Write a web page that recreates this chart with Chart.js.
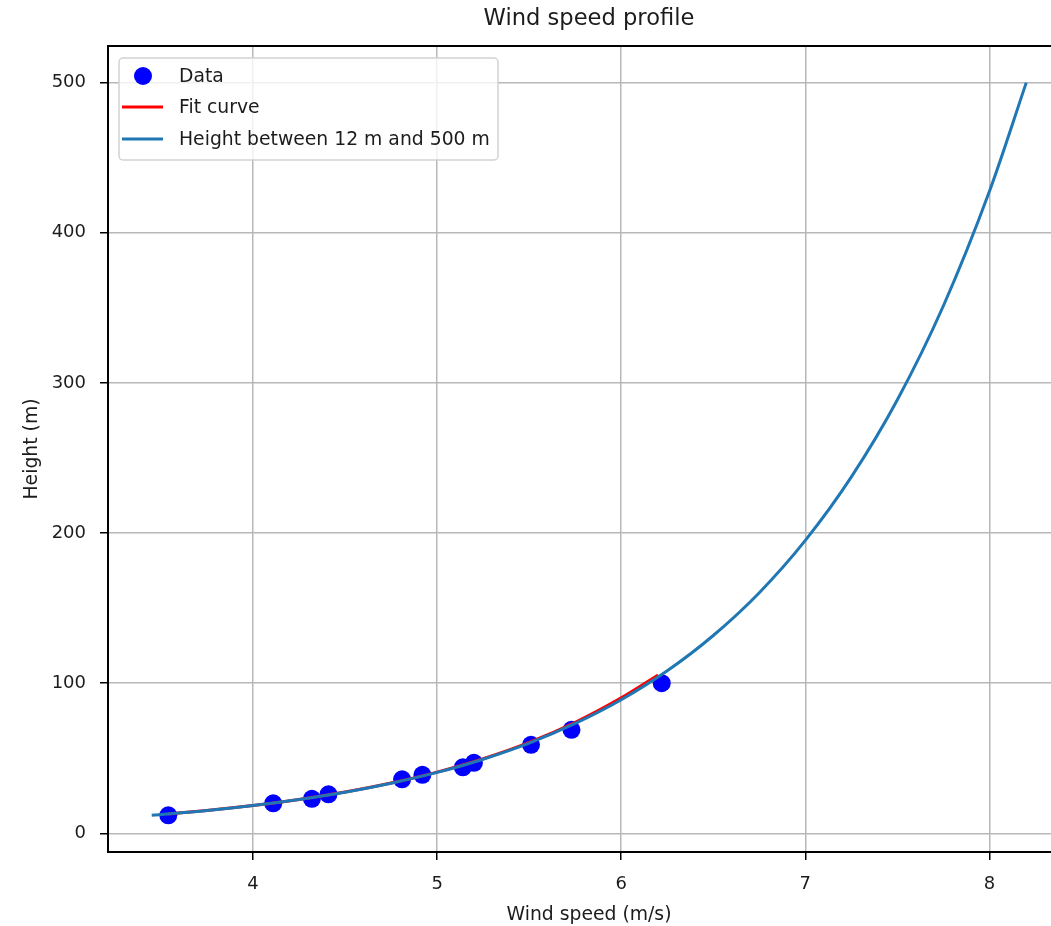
<!DOCTYPE html>
<html>
<head>
<meta charset="utf-8">
<script src="https://cdn.jsdelivr.net/npm/chart.js@4/dist/chart.umd.min.js"></script>
<style>
  html, body { margin: 0; padding: 0; overflow: hidden; background: #ffffff; }
  #wrap { width: 1176px; height: 926px; }
</style>
</head>
<body>
<div id="wrap"><canvas id="chart" width="1176" height="926"></canvas></div>
<script>
// Measured wind speed (m/s) at each height (m)
const dataSpeed  = [3.54, 4.11, 4.32, 4.41, 4.81, 4.92, 5.14, 5.20, 5.51, 5.73, 6.22];
const dataHeight = [12, 20, 23, 26, 36, 39, 44, 47, 59, 69, 100];

// Fitted profile over the measured range
const fitSpeed  = [3.54, 3.75, 4.00, 4.25, 4.50, 4.75, 5.00, 5.25, 5.50, 5.75, 6.00, 6.20];
const fitHeight = [12.9, 15.3, 18.6, 22.6, 27.5, 33.5, 40.8, 49.7, 60.6, 74.0, 90.3, 105.5];

// Extrapolated profile between 12 m and 500 m
const profSpeed  = [3.45, 3.75, 4.00, 4.25, 4.50, 4.75, 5.00, 5.25, 5.50, 5.75,
                    6.00, 6.25, 6.50, 6.75, 7.00, 7.25, 7.50, 7.75, 8.00, 8.20];
const profHeight = [12.0, 15.2, 18.5, 22.6, 27.4, 33.4, 40.6, 49.4, 60.1, 73.2,
                    89.0, 108.3, 131.8, 160.3, 195.1, 237.4, 288.8, 351.4, 427.6, 500.0];

// Axis ticks
const xTicks = [4, 5, 6, 7, 8];
const yTicks = [0, 100, 200, 300, 400, 500];

const labels = {
  title: 'Wind speed profile',
  x: 'Wind speed (m/s)',
  y: 'Height (m)',
  data: 'Data',
  fit: 'Fit curve',
  profile: 'Height between 12 m and 500 m'
};

const FONT = "'DejaVu Sans', sans-serif";
const TEXT = '#1c1c1c';

const pairs = (xs, ys) => xs.map((x, i) => ({ x: x, y: ys[i] }));

// Title over the axes, top spine and the boxed legend in the upper-left corner
const axesDecor = {
  id: 'axesDecor',
  afterDraw(chart) {
    const { ctx, chartArea: a } = chart;
    ctx.save();

    ctx.font = '22.6px ' + FONT;
    ctx.fillStyle = TEXT;
    ctx.textAlign = 'center';
    ctx.textBaseline = 'middle';
    ctx.fillText(labels.title, (a.left + a.right) / 2, 19);

    ctx.strokeStyle = '#000';
    ctx.lineWidth = 2;
    ctx.beginPath();
    ctx.moveTo(a.left - 1, a.top);
    ctx.lineTo(a.right + 1, a.top);
    ctx.stroke();

    const ds = chart.data.datasets;
    const bx = a.left + 11, by = a.top + 12, bw = 379, bh = 102;
    ctx.beginPath();
    ctx.roundRect(bx, by, bw, bh, 4);
    ctx.fillStyle = 'rgba(255,255,255,0.8)';
    ctx.fill();
    ctx.strokeStyle = '#d2d2d2';
    ctx.lineWidth = 1.5;
    ctx.stroke();

    const rows = [by + 18, by + 49, by + 81];
    const textX = a.left + 71;
    ctx.font = '18.8px ' + FONT;
    ctx.textBaseline = 'middle';
    ctx.textAlign = 'left';

    // marker entry
    ctx.beginPath();
    ctx.arc(a.left + 35, rows[0], 9, 0, Math.PI * 2);
    ctx.fillStyle = ds[0].backgroundColor;
    ctx.fill();
    // line entries
    [1, 2].forEach((k) => {
      ctx.beginPath();
      ctx.moveTo(a.left + 14, rows[k]);
      ctx.lineTo(a.left + 55, rows[k]);
      ctx.strokeStyle = ds[k].borderColor;
      ctx.lineWidth = 3;
      ctx.stroke();
    });
    ctx.fillStyle = TEXT;
    ds.forEach((d, k) => ctx.fillText(d.label, textX, rows[k] + 1));
    ctx.restore();
  }
};

new Chart(document.getElementById('chart'), {
  type: 'scatter',
  data: {
    datasets: [
      {
        label: labels.data,
        data: pairs(dataSpeed, dataHeight),
        backgroundColor: '#0000ff',
        borderColor: '#0000ff',
        pointRadius: 9,
        pointBorderWidth: 0,
        showLine: false,
        order: 3
      },
      {
        label: labels.fit,
        data: pairs(fitSpeed, fitHeight),
        borderColor: '#ff0000',
        backgroundColor: '#ff0000',
        borderWidth: 3,
        pointRadius: 0,
        showLine: true,
        cubicInterpolationMode: 'monotone',
        order: 2
      },
      {
        label: labels.profile,
        data: pairs(profSpeed, profHeight),
        borderColor: '#1f77b4',
        backgroundColor: '#1f77b4',
        borderWidth: 3,
        pointRadius: 0,
        showLine: true,
        cubicInterpolationMode: 'monotone',
        order: 1
      }
    ]
  },
  options: {
    responsive: false,
    animation: false,
    devicePixelRatio: 1,
    layout: { padding: { left: 0, right: 106, top: 46, bottom: 0 } },
    plugins: {
      legend: { display: false },
      tooltip: { enabled: false },
      title: { display: false }
    },
    scales: {
      x: {
        type: 'linear',
        min: 3.2125,
        max: 8.4375,
        afterBuildTicks: (s) => { s.ticks = xTicks.map((v) => ({ value: v })); },
        afterFit: (s) => { s.height = 74; },
        ticks: { color: TEXT, font: { family: FONT, size: 18 }, padding: 14, maxRotation: 0 },
        grid: { color: '#b8b8b8', lineWidth: 1.5, tickColor: '#000', tickLength: 8, tickWidth: 1.5 },
        border: { display: true, color: '#000', width: 2 },
        title: {
          display: true,
          text: labels.x,
          color: TEXT,
          font: { family: FONT, size: 18.8, lineHeight: 1.2 },
          padding: { top: 0, bottom: 0 }
        }
      },
      y: {
        type: 'linear',
        min: -12.4,
        max: 524.4,
        afterBuildTicks: (s) => { s.ticks = yTicks.map((v) => ({ value: v })); },
        afterFit: (s) => { s.width = 108; },
        ticks: { color: TEXT, font: { family: FONT, size: 18 }, padding: 14 },
        grid: { color: '#b8b8b8', lineWidth: 1.5, tickColor: '#000', tickLength: 8, tickWidth: 1.5 },
        border: { display: true, color: '#000', width: 2 },
        title: {
          display: true,
          text: labels.y,
          color: TEXT,
          font: { family: FONT, size: 18.8, lineHeight: 1.2 },
          padding: { top: 21, bottom: 0 }
        }
      }
    }
  },
  plugins: [axesDecor]
});
</script>
</body>
</html>
